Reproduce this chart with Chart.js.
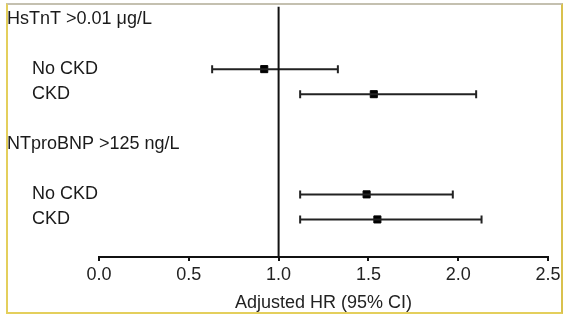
<!DOCTYPE html>
<html>
<head>
<meta charset="utf-8">
<script src="https://cdn.jsdelivr.net/npm/chart.js@4.4.1/dist/chart.umd.min.js"></script>
<style>
  html, body { margin: 0; padding: 0; background: #ffffff; }
  #wrap { position: relative; width: 568px; height: 326px; }
  #c { position: absolute; left: 0; top: 0; }
  #frame {
    position: absolute; left: 6px; top: 3px; width: 553px; height: 307px;
    border-left: 2px solid #e4cf5c; border-right: 2px solid #d9c14e;
    border-bottom: 2px solid #e4cf5c; border-top: 2px solid #c4c0b0;
    pointer-events: none;
  }
</style>
</head>
<body>
<div id="wrap">
  <canvas id="c" width="568" height="326"></canvas>
  <div id="frame"></div>
</div>
<script>
// Rows from top to bottom; empty strings are spacer rows
const rowLabels = ['HsTnT >0.01 μg/L', '', 'No CKD', 'CKD', '', 'NTproBNP >125 ng/L', '', 'No CKD', 'CKD'];
const rowIsHeader = [true, false, false, false, false, true, false, false, false];
// Estimates, one per subgroup row (rows with data)
const estimateRows = ['No CKD', 'CKD', 'No CKD', 'CKD'];
const hr = [0.92, 1.53, 1.49, 1.55];
const ciLow = [0.63, 1.12, 1.12, 1.12];
const ciHigh = [1.33, 2.10, 1.97, 2.13];
const xTicks = [0, 0.5, 1.0, 1.5, 2.0, 2.5];
const xTitle = 'Adjusted HR (95% CI)';
const refValue = 1.0;

// indexes of the data rows in rowLabels
const dataRowIdx = [];
rowLabels.forEach((l, i) => { if (l && !rowIsHeader[i]) dataRowIdx.push(i); });

const FONT = "'Liberation Sans', Arial, sans-serif";
const INK = '#111111';

const datasets = [];
// reference line
datasets.push({
  data: [{ x: refValue, y: -0.5 }, { x: refValue, y: rowLabels.length + 0.5 }],
  showLine: true, borderColor: INK, borderWidth: 2, pointRadius: 0
});
// CI lines with caps
hr.forEach((v, i) => {
  const y = dataRowIdx[i];
  datasets.push({
    data: [{ x: ciLow[i], y }, { x: ciHigh[i], y }],
    showLine: true, borderColor: '#222', borderWidth: 2,
    pointStyle: 'line', rotation: 90, pointRadius: 4,
    pointBorderWidth: 2, pointBorderColor: '#222', pointBackgroundColor: '#222'
  });
});
// point estimates
datasets.push({
  data: hr.map((v, i) => ({ x: v, y: dataRowIdx[i] })),
  showLine: false, pointStyle: 'rect', pointRadius: 5,
  pointBackgroundColor: '#000', pointBorderColor: '#000', pointBorderWidth: 1
});

const rowLabelPlugin = {
  id: 'rowLabels',
  afterDraw(chart) {
    const ctx = chart.ctx;
    const ys = chart.scales.y;
    ctx.save();
    ctx.font = '18px ' + FONT;
    ctx.fillStyle = '#1a1a1a';
    ctx.textBaseline = 'middle';
    ctx.textAlign = 'left';
    rowLabels.forEach((l, i) => {
      if (!l) return;
      const x = rowIsHeader[i] ? 7 : 32;
      ctx.fillText(l, x, ys.getPixelForValue(i));
    });
    ctx.restore();
  }
};

new Chart(document.getElementById('c'), {
  type: 'scatter',
  data: { datasets },
  plugins: [rowLabelPlugin],
  options: {
    responsive: false,
    animation: false,
    events: [],
    layout: { padding: { left: 99, right: 20, top: 6.5, bottom: 0 } },
    plugins: { legend: { display: false }, tooltip: { enabled: false } },
    scales: {
      y: {
        display: false,
        reverse: true,
        min: -0.5,
        max: rowLabels.length + 0.5
      },
      x: {
        type: 'linear',
        min: xTicks[0],
        max: xTicks[xTicks.length - 1],
        afterBuildTicks: (s) => { s.ticks = xTicks.map(v => ({ value: v })); },
        afterFit: (s) => { s.height = 69; },
        border: { display: true, color: INK, width: 2 },
        grid: { drawOnChartArea: false, drawTicks: true, tickLength: 4, color: INK, lineWidth: 2 },
        ticks: {
          padding: 3,
          color: '#222',
          font: { family: FONT, size: 18 },
          callback: (v) => Number(v).toFixed(1)
        },
        title: {
          display: true,
          text: xTitle,
          color: '#222',
          font: { family: FONT, size: 18 },
          padding: { top: 0, bottom: 12 }
        }
      }
    }
  }
});
</script>
</body>
</html>
